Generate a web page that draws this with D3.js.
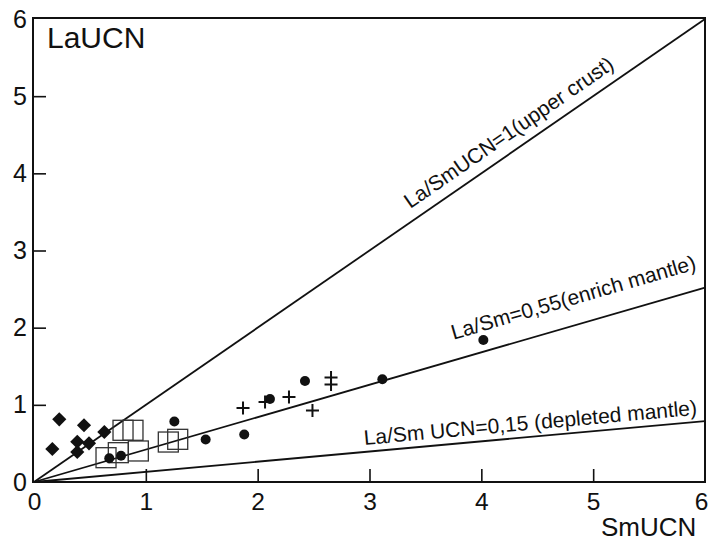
<!DOCTYPE html>
<html>
<head>
<meta charset="utf-8">
<script src="https://cdn.jsdelivr.net/npm/d3@7"></script>
<style>
  html, body { margin: 0; padding: 0; background: #fff; }
  svg { display: block; font-family: "Liberation Sans", Arial, sans-serif; }
</style>
</head>
<body>
<svg id="chart" width="709" height="542"></svg>
<script>
// Axis ticks (both axes run 0..6)
const smTicks = [0, 1, 2, 3, 4, 5, 6];
const laTicks = [0, 1, 2, 3, 4, 5, 6];

// Samples: SmUCN (x) and LaUCN (y)
const diamondSm = [0.226, 0.164, 0.447, 0.387, 0.387, 0.492, 0.629];
const diamondLa = [0.812, 0.428, 0.735, 0.522, 0.389, 0.501, 0.648];

const squareSm = [0.796, 0.885, 0.644, 0.754, 0.933, 1.201, 1.285];
const squareLa = [0.670, 0.670, 0.315, 0.380, 0.402, 0.518, 0.553];

const circleSm = [0.673, 0.778, 1.255, 1.535, 1.880, 2.110, 2.423, 3.115, 4.018];
const circleLa = [0.307, 0.341, 0.784, 0.551, 0.616, 1.076, 1.309, 1.331, 1.840];

const plusSm = [1.869, 2.066, 2.280, 2.490, 2.656, 2.656];
const plusLa = [0.959, 1.037, 1.101, 0.927, 1.354, 1.263];

// Reference lines from the origin to the right edge (SmUCN = 6)
const refNames = ["La/SmUCN=1(upper crust)", "La/Sm=0,55(enrich mantle)", "La/Sm UCN=0,15 (depleted mantle)"];
const refEndLa = [6, 2.52, 0.79];

const svg = d3.select("#chart");
const x = d3.scaleLinear().domain([0, 6]).range([34, 705]);
const y = d3.scaleLinear().domain([0, 6]).range([482, 19]);
const ink = "#111";

// x axis: inward ticks at 1..5, labels 0..6
const gx = svg.append("g")
  .attr("transform", `translate(0,${y(0)})`)
  .call(d3.axisBottom(x).tickValues(smTicks).tickFormat(d3.format("d"))
    .tickSizeInner(-13).tickSizeOuter(0).tickPadding(11));
gx.select(".domain").remove();
gx.selectAll(".tick line").attr("stroke", ink).attr("stroke-width", 1.6)
  .attr("display", d => (d === 0 || d === 6) ? "none" : null);
gx.selectAll(".tick text").attr("fill", ink).attr("font-size", 24.5)
  .attr("font-family", "Liberation Sans, Arial, sans-serif");
// the last label sits flush with the right edge of the frame
gx.selectAll(".tick text").filter(d => d === 6)
  .attr("text-anchor", "end").attr("x", 3);

// y axis
const gy = svg.append("g")
  .attr("transform", `translate(${x(0) - 1},0)`)
  .call(d3.axisLeft(y).tickValues(laTicks).tickFormat(d3.format("d"))
    .tickSizeInner(-13).tickSizeOuter(0).tickPadding(6));
gy.select(".domain").remove();
gy.selectAll(".tick line").attr("stroke", ink).attr("stroke-width", 1.6)
  .attr("display", d => (d === 0 || d === 6) ? "none" : null);
gy.selectAll(".tick text").attr("fill", ink).attr("font-size", 25)
  .attr("font-family", "Liberation Sans, Arial, sans-serif");

// frame
svg.append("rect")
  .attr("x", x(0) - 1).attr("y", y(6) - 1)
  .attr("width", x(6) - x(0) + 1).attr("height", y(0) - y(6) + 1)
  .attr("fill", "none").attr("stroke", ink).attr("stroke-width", 2);

// reference lines
const refs = refNames.map((name, i) => ({ name, end: refEndLa[i] }));
svg.append("g").selectAll("line").data(refs).join("line")
  .attr("x1", x(0)).attr("y1", y(0))
  .attr("x2", x(6)).attr("y2", d => y(d.end))
  .attr("stroke", ink).attr("stroke-width", 1.8);

// labels along the lines: start position (SmUCN) and offset above line
const labelStart = [3.42, 3.80, 2.96];
const labelOffset = [-11, -20, -7];
refs.forEach((d, i) => {
  const sx = labelStart[i];
  const px = x(sx), py = y(sx * d.end / 6);
  const ang = Math.atan2(y(d.end) - y(0), x(6) - x(0)) * 180 / Math.PI;
  svg.append("text")
    .attr("transform", `translate(${px},${py}) rotate(${ang})`)
    .attr("y", labelOffset[i])
    .attr("font-size", 21).attr("fill", ink)
    .text(d.name);
});

// open squares
svg.append("g").selectAll("rect").data(d3.zip(squareSm, squareLa)).join("rect")
  .attr("x", d => x(d[0]) - 10).attr("y", d => y(d[1]) - 10)
  .attr("width", 20).attr("height", 20)
  .attr("fill", "none").attr("stroke", "#333").attr("stroke-width", 1.3);

// filled diamonds
svg.append("g").selectAll("path").data(d3.zip(diamondSm, diamondLa)).join("path")
  .attr("d", d3.symbol(d3.symbolSquare, 100))
  .attr("transform", d => `translate(${x(d[0])},${y(d[1])}) rotate(45)`)
  .attr("fill", ink);

// filled circles
svg.append("g").selectAll("circle").data(d3.zip(circleSm, circleLa)).join("circle")
  .attr("cx", d => x(d[0])).attr("cy", d => y(d[1])).attr("r", 5)
  .attr("fill", ink);

// plus signs
svg.append("g").selectAll("path").data(d3.zip(plusSm, plusLa)).join("path")
  .attr("d", d => {
    const cx = x(d[0]), cy = y(d[1]), h = 6.5;
    return `M${cx - h},${cy}H${cx + h}M${cx},${cy - h}V${cy + h}`;
  })
  .attr("stroke", ink).attr("stroke-width", 2).attr("fill", "none");

// axis titles
svg.append("text").attr("x", 47).attr("y", 48)
  .attr("font-size", 30).attr("fill", ink).text("LaUCN");
svg.append("text").attr("x", 601).attr("y", 536)
  .attr("font-size", 26).attr("fill", ink).text("SmUCN");
</script>
</body>
</html>
